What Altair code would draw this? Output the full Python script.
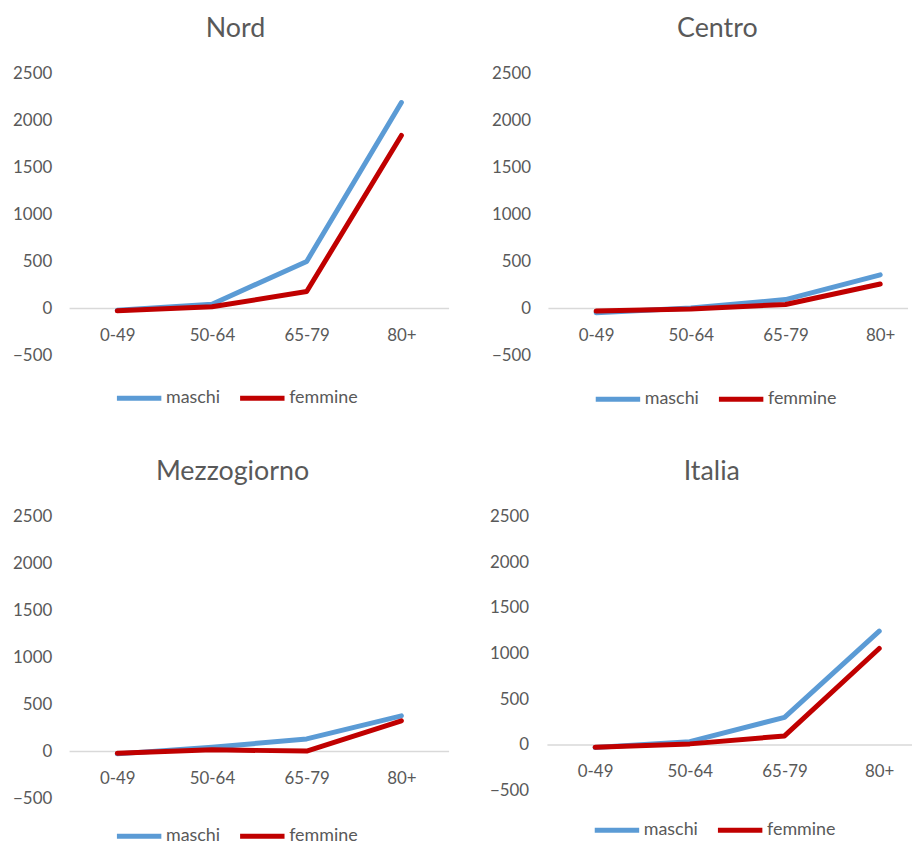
import altair as alt
import pandas as pd

FONT = "Lato"
GREY = "#595959"

ages = ["0-49", "50-64", "65-79", "80+"]
regions = ["Nord", "Centro", "Mezzogiorno", "Italia"]
sexes = ["maschi", "femmine"]
colors = ["#5B9BD5", "#C00000"]

nord_maschi = [-20, 45, 500, 2190]
nord_femmine = [-25, 18, 180, 1840]
centro_maschi = [-45, 5, 95, 358]
centro_femmine = [-28, -5, 42, 260]
mezzogiorno_maschi = [-25, 45, 134, 380]
mezzogiorno_femmine = [-18, 18, 5, 327]
italia_maschi = [-29, 36, 302, 1245]
italia_femmine = [-25, 11, 98, 1055]

series = {
    "Nord": (nord_maschi, nord_femmine),
    "Centro": (centro_maschi, centro_femmine),
    "Mezzogiorno": (mezzogiorno_maschi, mezzogiorno_femmine),
    "Italia": (italia_maschi, italia_femmine),
}

rows = []
for reg in regions:
    for sex, vals in zip(sexes, series[reg]):
        for a, v in zip(ages, vals):
            rows.append({"regione": reg, "sesso": sex, "eta": a, "valore": v})
data = pd.DataFrame(rows)
zero_df = pd.DataFrame({"zero": [0]})

yticks = [-500, 0, 500, 1000, 1500, 2000, 2500]


def panel(region, width, height, title_dx, extent, label_pad, legend_y):
    df = data[data.regione == region]
    y_scale = alt.Scale(domain=[-500, 2500], nice=False, zero=False)
    rule = alt.Chart(zero_df).mark_rule(color="#D9D9D9", strokeWidth=1.5).encode(
        y=alt.datum(0)
    )
    lines = alt.Chart(df).mark_line(strokeWidth=5, strokeCap="round", strokeJoin="round").encode(
        x=alt.X(
            "eta:N",
            sort=ages,
            scale=alt.Scale(type="point", domain=ages, range=[48, 334], padding=0),
            axis=alt.Axis(
                title=None, labelAngle=0, domain=False, ticks=False, tickSize=0, grid=False,
                labelPadding=19, offset=-height / 6, labelFontSize=17, labelColor=GREY,
                labelFont=FONT,
            ),
        ),
        y=alt.Y(
            "valore:Q",
            scale=y_scale,
            axis=alt.Axis(
                title=None, values=yticks, format="d", domain=False, ticks=False, grid=False,
                labelPadding=label_pad, minExtent=extent, maxExtent=extent, labelFontSize=17,
                labelColor=GREY, labelFont=FONT,
            ),
        ),
        color=alt.Color(
            "sesso:N",
            sort=sexes,
            scale=alt.Scale(domain=sexes, range=colors),
            legend=alt.Legend(
                title=None, orient="none", legendX=45, legendY=legend_y, direction="horizontal",
                symbolType="stroke", symbolStrokeWidth=5, symbolSize=2000, labelFontSize=18,
                labelColor=GREY, labelFont=FONT, columnPadding=9, labelOffset=2, padding=0,
            ),
        ),
        order=alt.Order("eta_idx:Q"),
    ).transform_calculate(
        eta_idx="indexof(['0-49','50-64','65-79','80+'], datum.eta)"
    )
    return alt.layer(rule, lines).properties(
        width=width,
        height=height,
        title=alt.TitleParams(
            region, fontSize=27, color=GREY, font=FONT, fontWeight="normal",
            dx=title_dx, offset=22, anchor="middle", frame="group",
        ),
    )


top = alt.hconcat(
    panel("Nord", 382, 284, -24, 62, 18, 302),
    panel("Centro", 362, 284, -11, 62, 18, 303),
    spacing=37,
).resolve_scale(color="independent").resolve_legend(color="independent")

bottom = alt.hconcat(
    panel("Mezzogiorno", 382, 284, -27, 58, 18, 297),
    panel("Italia", 367, 276, -18, 62, 19, 291),
    spacing=36,
).resolve_scale(color="independent").resolve_legend(color="independent")

chart = alt.vconcat(top, bottom, spacing=49).resolve_scale(
    color="independent"
).resolve_legend(color="independent").properties(
    padding={"top": 4, "left": 0, "right": 0, "bottom": 0}
).configure_view(stroke=None)

chart.save("out.html", embed_options={"renderer": "svg", "actions": False})
